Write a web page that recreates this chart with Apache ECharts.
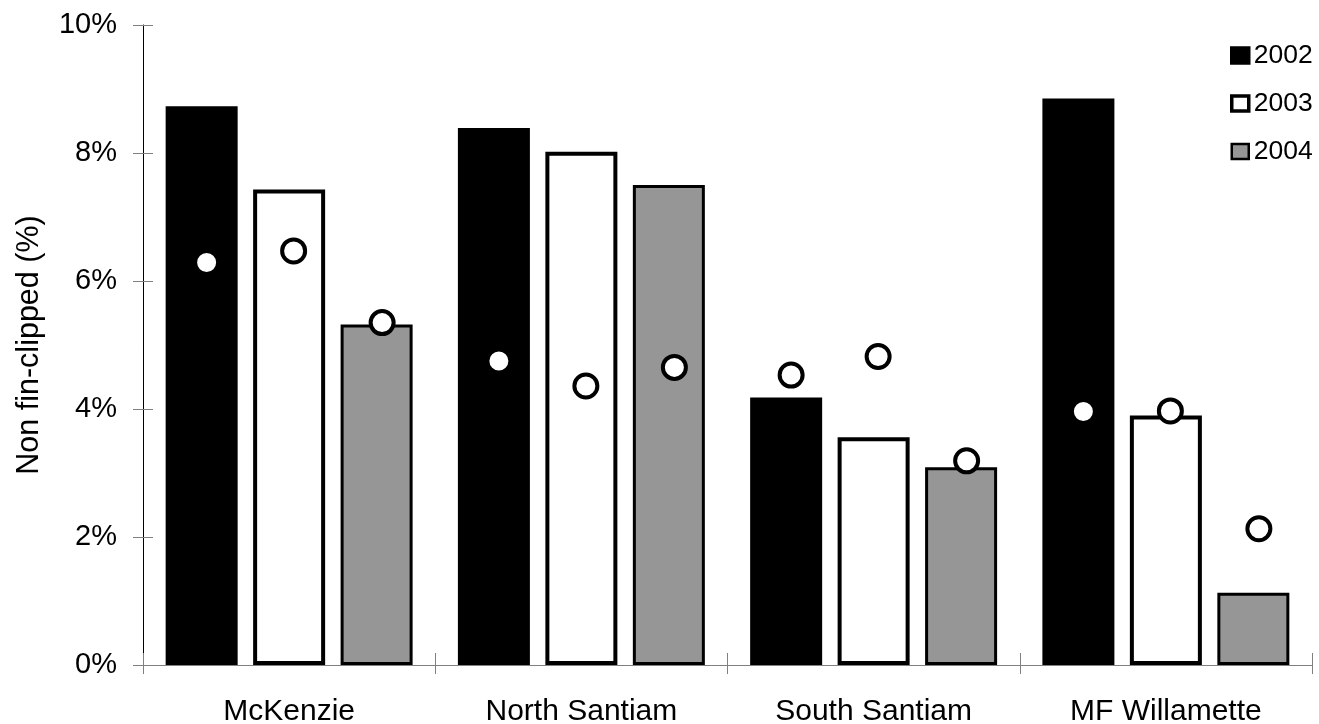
<!DOCTYPE html>
<html>
<head>
<meta charset="utf-8">
<script src="https://cdn.jsdelivr.net/npm/echarts@6/dist/echarts.min.js"></script>
<style>
html,body{margin:0;padding:0;background:#fff;}
#chart{width:1319px;height:724px;}
</style>
</head>
<body>
<div id="chart"></div>
<script>
const categories = ['McKenzie', 'North Santiam', 'South Santiam', 'MF Willamette'];
const years = ['2002', '2003', '2004'];
const bars2002 = [8.73, 8.39, 4.18, 8.85];
const bars2003 = [7.43, 8.02, 3.56, 3.90];
const bars2004 = [5.32, 7.50, 3.09, 1.13];
const dots2002 = [6.29, 4.75, 4.53, 3.96];
const dots2003 = [6.47, 4.36, 4.82, 3.97];
const dots2004 = [5.35, 4.65, 3.19, 2.13];
const yTicks = [0, 2, 4, 6, 8, 10];

const FONT = "'Liberation Sans', Arial, sans-serif";
const GREY_AXIS = '#808080';
const fills = ['#000000', '#ffffff', '#969696'];
const borders = [4, 4, 3];
const barData = [bars2002, bars2003, bars2004];
const dotData = [dots2002, dots2003, dots2004];
const dotOffsets = [-82.5, 4.5, 93];

const chart = echarts.init(document.getElementById('chart'), null, {renderer: 'canvas'});

const series = [];
years.forEach((y, i) => {
  series.push({
    name: y,
    type: 'bar',
    xAxisIndex: 0,
    yAxisIndex: 0,
    barWidth: 72,
    barGap: '21.5%',
    data: barData[i],
    itemStyle: {color: fills[i], borderColor: '#000', borderWidth: borders[i]},
    emphasis: {disabled: true},
    z: 2
  });
});
years.forEach((y, i) => {
  series.push({
    name: y + ' circle',
    type: 'scatter',
    xAxisIndex: 0,
    yAxisIndex: 0,
    symbol: 'circle',
    symbolSize: 23,
    symbolOffset: [dotOffsets[i], 0],
    data: dotData[i],
    itemStyle: {color: '#ffffff', borderColor: '#000', borderWidth: 4, opacity: 1},
    emphasis: {disabled: true},
    z: 5
  });
});

const option = {
  backgroundColor: '#ffffff',
  animation: false,
  textStyle: {fontFamily: FONT},
  grid: {left: 143, right: 7, top: 25, bottom: 59, containLabel: false, outerBoundsMode: 'none'},
  legend: {
    orient: 'vertical',
    left: 1225,
    top: 37,
    itemWidth: 17,
    itemHeight: 15,
    itemGap: 21,
    selectedMode: false,
    textStyle: {fontFamily: FONT, fontSize: 26.5, color: '#000', lineHeight: 26},
    data: [
      {name: '2002', icon: 'rect', itemStyle: {color: '#000', borderColor: '#000', borderWidth: 3.5}},
      {name: '2003', icon: 'rect', itemStyle: {color: '#fff', borderColor: '#000', borderWidth: 3.5}},
      {name: '2004', icon: 'rect', itemStyle: {color: '#969696', borderColor: '#000', borderWidth: 2.5}}
    ]
  },
  xAxis: [
    {
      type: 'category',
      data: categories,
      position: 'bottom',
      boundaryGap: true,
      axisLine: {show: true, lineStyle: {color: GREY_AXIS, width: 1}},
      axisTick: {show: true, inside: false, length: 9, alignWithLabel: false, lineStyle: {color: GREY_AXIS, width: 1}},
      axisLabel: {show: true, margin: 32, fontSize: 30, color: '#000', fontFamily: FONT},
      splitLine: {show: false}
    },
    {
      type: 'category',
      data: categories,
      position: 'bottom',
      boundaryGap: true,
      axisLine: {show: false},
      axisTick: {show: true, inside: true, length: 12, lineStyle: {color: GREY_AXIS, width: 1}},
      axisLabel: {show: false},
      splitLine: {show: false}
    }
  ],
  yAxis: [
    {
      type: 'value',
      min: yTicks[0],
      max: yTicks[yTicks.length - 1],
      interval: 2,
      position: 'left',
      name: 'Non fin-clipped (%)',
      nameLocation: 'middle',
      nameGap: 98,
      nameRotate: 90,
      nameTextStyle: {fontSize: 30.5, color: '#000', fontFamily: FONT},
      axisLine: {show: true, lineStyle: {color: '#000', width: 1}},
      axisTick: {show: true, inside: false, length: 10, lineStyle: {color: GREY_AXIS, width: 1}},
      axisLabel: {show: true, margin: 26, fontSize: 29, color: '#000', fontFamily: FONT, formatter: '{value}%'},
      splitLine: {show: false}
    },
    {
      type: 'value',
      min: yTicks[0],
      max: yTicks[yTicks.length - 1],
      interval: 2,
      position: 'left',
      offset: 0,
      axisLine: {show: false},
      axisTick: {show: true, inside: true, length: 10, lineStyle: {color: GREY_AXIS, width: 1}},
      axisLabel: {show: false},
      splitLine: {show: false}
    }
  ],
  series: series
};

chart.setOption(option);
</script>
</body>
</html>
